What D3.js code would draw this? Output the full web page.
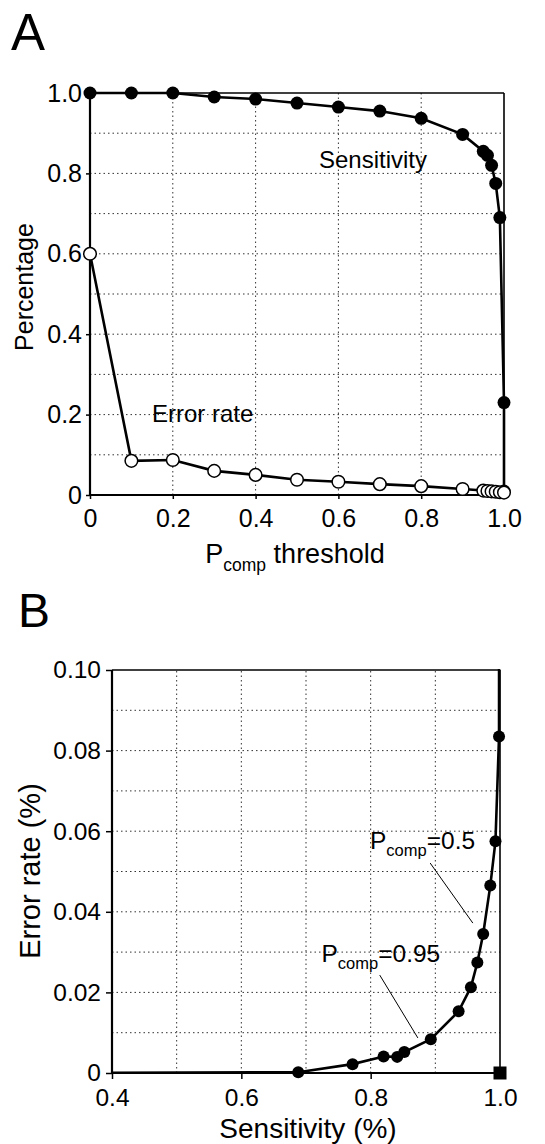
<!DOCTYPE html>
<html>
<head>
<meta charset="utf-8">
<script src="https://cdn.jsdelivr.net/npm/d3@7/dist/d3.min.js"></script>
<style>
  html, body { margin: 0; padding: 0; background: #fff; }
  svg { display: block; font-family: "Liberation Sans", Arial, Helvetica, sans-serif; }
</style>
</head>
<body>
<svg id="chart" width="545" height="1144"></svg>
<script>
// ---------- Panel A data ----------
const sensThresholds = [0, 0.1, 0.2, 0.3, 0.4, 0.5, 0.6, 0.7, 0.8, 0.9, 0.95, 0.96, 0.97, 0.98, 0.99, 1.0, 1.0];
const sensitivity    = [1.0, 1.0, 1.0, 0.99, 0.985, 0.975, 0.965, 0.955, 0.937, 0.897, 0.855, 0.845, 0.82, 0.775, 0.69, 0.23, 0.01];
const errThresholds  = [0, 0.1, 0.2, 0.3, 0.4, 0.5, 0.6, 0.7, 0.8, 0.9, 0.95, 0.96, 0.97, 0.98, 0.99, 1.0];
const errorRate      = [0.60, 0.085, 0.087, 0.060, 0.050, 0.038, 0.033, 0.027, 0.022, 0.015, 0.011, 0.010, 0.009, 0.008, 0.007, 0.006];
const aXTicks = [0, 0.2, 0.4, 0.6, 0.8, 1.0];
const aXTickLabels = ["0", "0.2", "0.4", "0.6", "0.8", "1.0"];
const aYTicks = [0, 0.2, 0.4, 0.6, 0.8, 1.0];
const aYTickLabels = ["0", "0.2", "0.4", "0.6", "0.8", "1.0"];
const aXGrid = [0.2, 0.4, 0.6, 0.8];
const aYGrid = [0.1, 0.2, 0.3, 0.4, 0.5, 0.6, 0.7, 0.8, 0.9];

// ---------- Panel B data ----------
const rocSensitivity = [1.0, 0.9985, 0.993, 0.985, 0.974, 0.965, 0.955, 0.936, 0.893, 0.852, 0.841, 0.820, 0.772, 0.688, 0.23];
const rocErrorRate   = [0.60, 0.0835, 0.0575, 0.0465, 0.0345, 0.0274, 0.0213, 0.0153, 0.0084, 0.0052, 0.0040, 0.0041, 0.0022, 0.0002, 0.0];
const idealPoint = [{ s: 1.0, e: 0.0 }];
const bXTicks = [0.4, 0.6, 0.8, 1.0];
const bXTickLabels = ["0.4", "0.6", "0.8", "1.0"];
const bYTicks = [0, 0.02, 0.04, 0.06, 0.08, 0.10];
const bYTickLabels = ["0", "0.02", "0.04", "0.06", "0.08", "0.10"];
const bXGrid = [0.5, 0.6, 0.7, 0.8, 0.9];
const bYGrid = [0.01, 0.02, 0.03, 0.04, 0.05, 0.06, 0.07, 0.08, 0.09];
const annotations = [
  { label: "0.5",  tx: 0.799, ty: 0.0556, x1: 0.892, y1: 0.0521, x2: 0.958, y2: 0.0372 },
  { label: "0.95", tx: 0.724, ty: 0.0276, x1: 0.814, y1: 0.0243, x2: 0.873, y2: 0.0087 }
];

const svg = d3.select("#chart");
const FONT = '"Liberation Sans", Arial, Helvetica, sans-serif';

function grid(g, x, y, xVals, yVals) {
  const [x0, x1] = x.range();
  const [y0, y1] = y.range();
  g.selectAll(".hg").data(yVals).join("line")
    .attr("x1", x0).attr("x2", x1).attr("y1", d => y(d)).attr("y2", d => y(d))
    .attr("stroke", "#333").attr("stroke-width", 1).attr("stroke-dasharray", "1.5,3");
  g.selectAll(".vg").data(xVals).join("line")
    .attr("y1", y0).attr("y2", y1).attr("x1", d => x(d)).attr("x2", d => x(d))
    .attr("stroke", "#333").attr("stroke-width", 1).attr("stroke-dasharray", "1.5,3");
}

function frame(g, x, y) {
  const [x0, x1] = x.range();
  const [y0, y1] = y.range();
  g.append("line").attr("x1", x0).attr("x2", x1).attr("y1", y1).attr("y2", y1).attr("stroke", "#000").attr("stroke-width", 1.6);
  g.append("line").attr("x1", x1).attr("x2", x1).attr("y1", y0).attr("y2", y1).attr("stroke", "#000").attr("stroke-width", 1.6);
}

function axes(g, x, y, xt, xl, yt, yl, fs, tick, ypad, xpad) {
  const ax = g.append("g").attr("transform", `translate(0,${y.range()[0]})`)
    .call(d3.axisBottom(x).tickValues(xt).tickFormat((d, i) => xl[i]).tickSize(tick).tickPadding(xpad));
  const ay = g.append("g").attr("transform", `translate(${x.range()[0]},0)`)
    .call(d3.axisLeft(y).tickValues(yt).tickFormat((d, i) => yl[i]).tickSize(tick).tickPadding(ypad));
  [ax, ay].forEach(a => {
    a.select(".domain").attr("stroke", "#000").attr("stroke-width", 2.2);
    a.selectAll(".tick line").attr("stroke", "#000").attr("stroke-width", 1.5);
    a.selectAll(".tick text").attr("fill", "#000").attr("font-family", FONT).attr("font-size", fs);
  });
  return [ax, ay];
}

// ================= Panel A =================
const xA = d3.scaleLinear().domain([0, 1]).range([90, 504]);
const yA = d3.scaleLinear().domain([0, 1]).range([495, 93]);
const gA = svg.append("g");

gA.append("text").attr("x", 11).attr("y", 50).attr("font-size", 51).attr("font-family", FONT).text("A");

grid(gA.append("g"), xA, yA, aXGrid, aYGrid);
frame(gA, xA, yA);
const [axA, ayA] = axes(gA, xA, yA, aXTicks, aXTickLabels, aYTicks, aYTickLabels, 25, 4, 4, 10);
axA.select(".domain").attr("d", `M${xA.range()[0]},0H${xA.range()[1]}`);
ayA.select(".domain").attr("d", `M0,${yA.range()[0]}V${yA.range()[1]}`);

const lineA = d3.line().x(d => xA(d[0])).y(d => yA(d[1]));
const sensPts = sensThresholds.map((t, i) => [t, sensitivity[i]]);
const errPts = errThresholds.map((t, i) => [t, errorRate[i]]);

gA.append("path").attr("d", lineA(sensPts)).attr("fill", "none").attr("stroke", "#000").attr("stroke-width", 2.6);
gA.append("path").attr("d", lineA(errPts)).attr("fill", "none").attr("stroke", "#000").attr("stroke-width", 2.6);
gA.selectAll(".sp").data(sensPts).join("circle")
  .attr("cx", d => xA(d[0])).attr("cy", d => yA(d[1])).attr("r", 6.5).attr("fill", "#000");
gA.selectAll(".ep").data(errPts).join("circle")
  .attr("cx", d => xA(d[0])).attr("cy", d => yA(d[1])).attr("r", 6.3)
  .attr("fill", "#fff").attr("stroke", "#000").attr("stroke-width", 1.5);

gA.append("text").attr("x", 319).attr("y", 168).attr("font-size", 24).attr("font-family", FONT).text("Sensitivity");
gA.append("text").attr("x", 152).attr("y", 422).attr("font-size", 24).attr("font-family", FONT).text("Error rate");

gA.append("text").attr("transform", "translate(33,287) rotate(-90)").attr("text-anchor", "middle")
  .attr("font-size", 25).attr("font-family", FONT).text("Percentage");

const xtA = gA.append("text").attr("x", 295).attr("y", 563).attr("text-anchor", "middle")
  .attr("font-size", 27).attr("font-family", FONT);
xtA.append("tspan").text("P");
xtA.append("tspan").attr("font-size", 17.5).attr("dy", 8).text("comp");
xtA.append("tspan").attr("dy", -8).text(" threshold");

// ================= Panel B =================
const xB = d3.scaleLinear().domain([0.4, 1.0]).range([112, 500]);
const yB = d3.scaleLinear().domain([0, 0.1]).range([1073, 670]);
const gB = svg.append("g");

gB.append("text").attr("x", 18).attr("y", 627).attr("font-size", 48).attr("font-family", FONT).text("B");

grid(gB.append("g"), xB, yB, bXGrid, bYGrid);
frame(gB, xB, yB);
const [axB, ayB] = axes(gB, xB, yB, bXTicks, bXTickLabels, bYTicks, bYTickLabels, 24.5, 6, 5, 10);
axB.select(".domain").attr("d", `M${xB.range()[0]},0H${xB.range()[1]}`);
ayB.select(".domain").attr("d", `M0,${yB.range()[0]}V${yB.range()[1]}`);

svg.append("defs").append("clipPath").attr("id", "clipB").append("rect")
  .attr("x", xB.range()[0]).attr("y", yB.range()[1] - 1)
  .attr("width", xB.range()[1] - xB.range()[0] + 2).attr("height", yB.range()[0] - yB.range()[1] + 2);

const rocPts = rocSensitivity.map((s, i) => [s, rocErrorRate[i]]);
const lineB = d3.line().x(d => xB(d[0])).y(d => yB(d[1]));
gB.append("path").attr("d", lineB(rocPts)).attr("clip-path", "url(#clipB)")
  .attr("fill", "none").attr("stroke", "#000").attr("stroke-width", 2.6);
gB.selectAll(".rp").data(rocPts.filter(d => d[0] >= 0.4 && d[1] <= 0.1)).join("circle")
  .attr("cx", d => xB(d[0])).attr("cy", d => yB(d[1])).attr("r", 6).attr("fill", "#000");
gB.selectAll(".ip").data(idealPoint).join("rect")
  .attr("x", d => xB(d.s) - 6.5).attr("y", d => yB(d.e) - 6.5).attr("width", 13).attr("height", 13).attr("fill", "#000");

annotations.forEach(a => {
  const t = gB.append("text").attr("x", xB(a.tx)).attr("y", yB(a.ty)).attr("font-size", 24.5).attr("font-family", FONT);
  t.append("tspan").text("P");
  t.append("tspan").attr("font-size", 16.5).attr("dy", 7).text("comp");
  t.append("tspan").attr("dy", -7).text("=" + a.label);
  gB.append("line").attr("x1", xB(a.x1)).attr("y1", yB(a.y1)).attr("x2", xB(a.x2)).attr("y2", yB(a.y2))
    .attr("stroke", "#000").attr("stroke-width", 1);
});

gB.append("text").attr("transform", "translate(40,871) rotate(-90)").attr("text-anchor", "middle")
  .attr("font-size", 29).attr("font-family", FONT).text("Error rate (%)");
gB.append("text").attr("x", 308).attr("y", 1138).attr("text-anchor", "middle")
  .attr("font-size", 28).attr("font-family", FONT).text("Sensitivity (%)");
</script>
</body>
</html>
